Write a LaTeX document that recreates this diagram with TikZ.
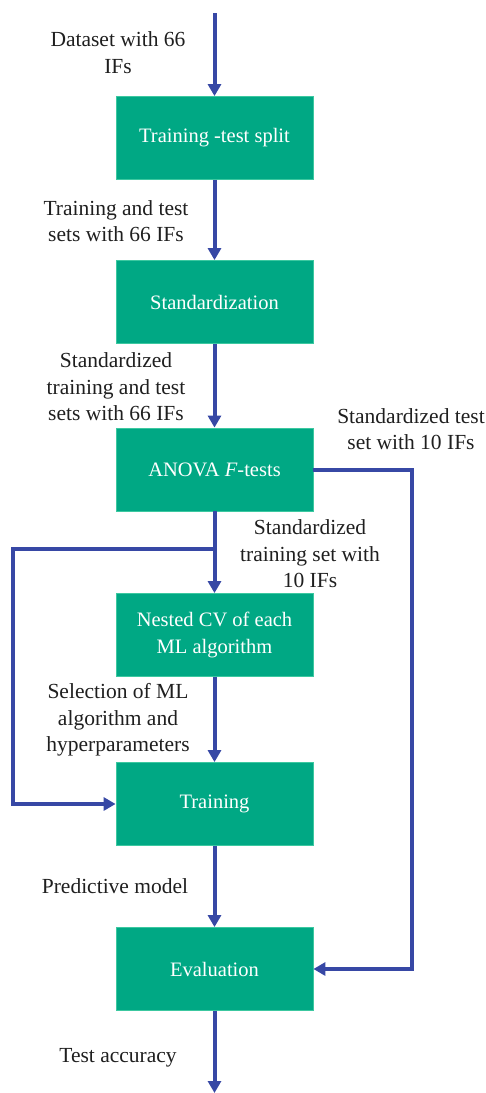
\documentclass[tikz,border=0pt]{standalone}
\usepackage{fontspec}
\setmainfont{Liberation Serif}
\usetikzlibrary{arrows.meta}
\definecolor{boxgreen}{RGB}{0,168,132}
\definecolor{boxedge}{RGB}{60,200,160}
\definecolor{arrblue}{RGB}{55,72,165}
\begin{document}
\begin{tikzpicture}[x=1pt,y=-1pt,
  box/.style={fill=boxgreen, draw=boxedge, line width=0.8pt, minimum width=197pt, minimum height=83pt,
    text=white, font=\fontsize{20.5}{26.5}\selectfont, align=center, inner sep=0pt},
  lbl/.style={font=\fontsize{21.5}{26.5}\selectfont, align=center, text=black!88, inner sep=0pt},
  flow/.style={draw=arrblue, line width=4pt, line join=miter, -{Triangle[length=12pt,width=13pt]}}]
\useasboundingbox (0,0) rectangle (486,1093);

\node[box] (b1) at (214.5,138) {Training -test split};
\node[box] (b2) at (214.5,302) {Standardization};
\node[box] (b3) at (214.5,469.5) {ANOVA \textit{F}-tests};
\node[box] (b4) at (214.5,635) {Nested CV of each\\ML algorithm};
\node[box] (b5) at (214.5,804) {Training};
\node[box] (b6) at (214.5,969) {Evaluation};

\coordinate (top) at (214.5,13);
\coordinate (bot) at (214.5,1093);
\coordinate (br) at (214.5,549);
\coordinate (L1) at (13,549);
\coordinate (R1) at (412,700);

\draw[flow] (top) -- (b1);
\draw[flow] (b1) -- (b2);
\draw[flow] (b2) -- (b3);
\draw[flow] (b3) -- (b4);
\draw[flow] (b4) -- (b5);
\draw[flow] (b5) -- (b6);
\draw[flow] (b6) -- (bot);
\draw[flow] (br) -- (L1) |- (b5.west);
\draw[flow] (b3.east) -| (R1) |- (b6.east);

\node[lbl] (t1) at (118,52.5) {Dataset with 66\\IFs};
\node[lbl] (t2) at (116,221) {Training and test\\sets with 66 IFs};
\node[lbl] (t3) at (116,387) {Standardized\\training and test\\sets with 66 IFs};
\node[lbl] (t4) at (411,429) {Standardized test\\set with 10 IFs};
\node[lbl] (t5) at (310,554) {Standardized\\training set with\\10 IFs};
\node[lbl] (t6) at (118,720) {Selection of ML\\algorithm and\\hyperparameters};
\node[lbl] (t7) at (115,886) {Predictive model};
\node[lbl] (t8) at (118,1058) {Test accuracy};
\end{tikzpicture}
\end{document}
